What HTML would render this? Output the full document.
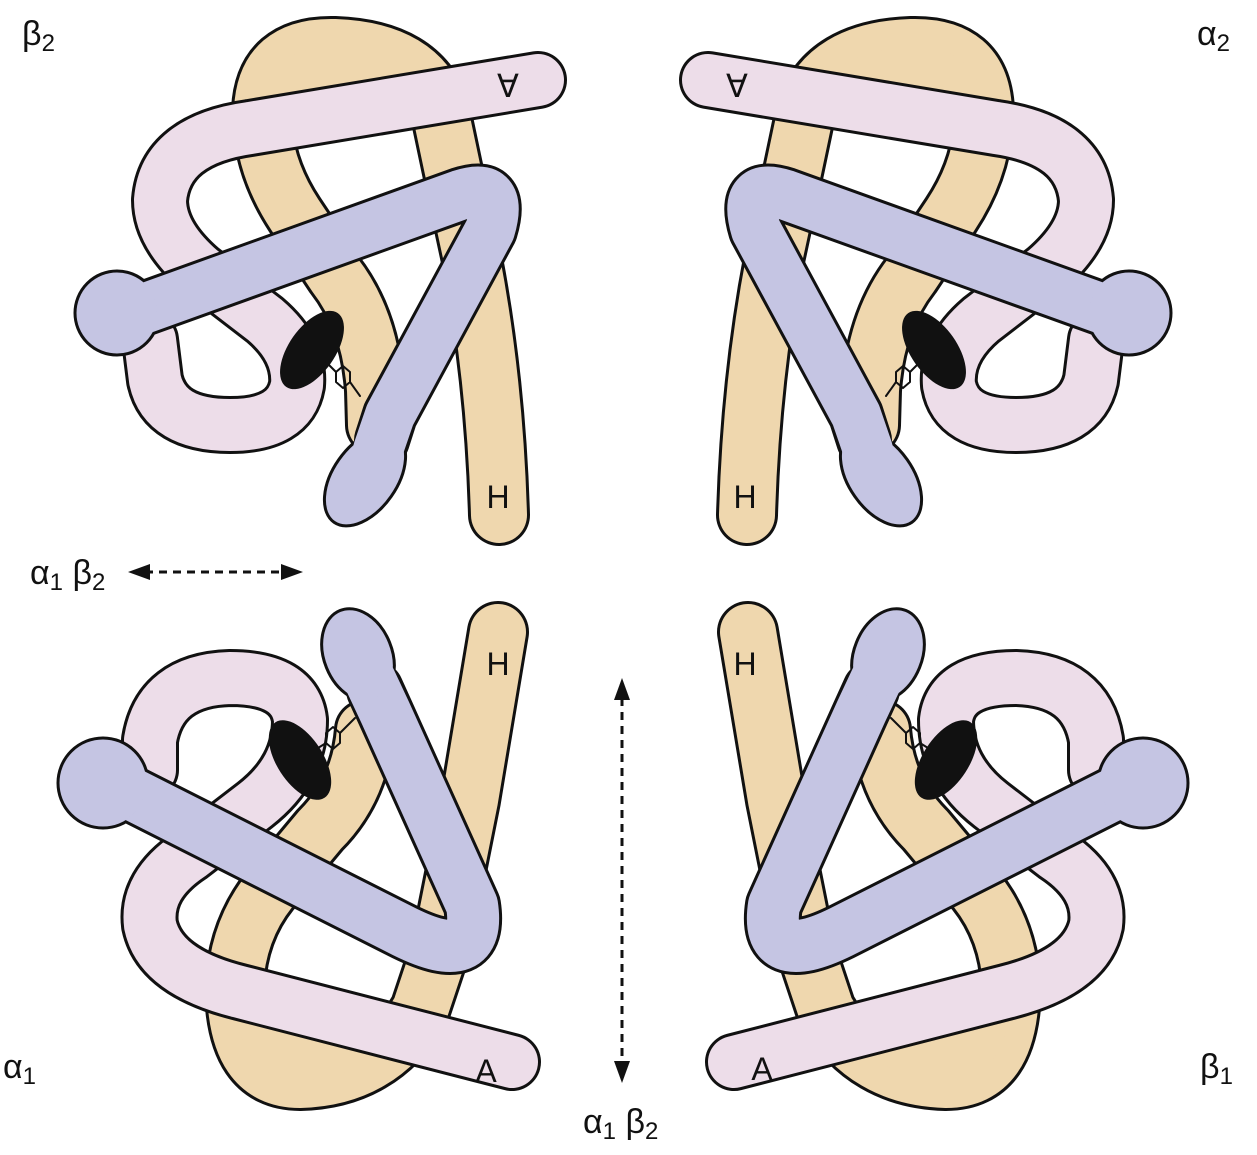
<!DOCTYPE html>
<html><head><meta charset="utf-8"><style>
html,body{margin:0;padding:0;background:#fff}
svg{display:block}
text{font-family:"Liberation Sans",sans-serif;fill:#111}
</style></head><body>
<svg width="1257" height="1155" viewBox="0 0 1257 1155" xmlns="http://www.w3.org/2000/svg">
<defs>
<g id="tl" stroke-linecap="round" stroke-linejoin="round" fill="none">
  <path d="M376 425 L375 390 Q370 320 335 275 L295 215 Q262 165 262 110 Q265 45 335 47 Q420 50 440 110 L452 167 L472 260 Q495 380 499 515" stroke="#111" stroke-width="62"/>
  <path d="M376 425 L375 390 Q370 320 335 275 L295 215 Q262 165 262 110 Q265 45 335 47 Q420 50 440 110 L452 167 L472 260 Q495 380 499 515" stroke="#EFD7AE" stroke-width="56"/>
  <path d="M262 115 Q265 45 335 47 Q420 50 442 115 Z" fill="#EFD7AE"/>
  <path d="M538 80 L250 128 Q165 140 160 200 Q160 235 200 270 L265 320 Q300 350 297 385 Q290 425 230 425 Q165 425 155 380 L150 340" stroke="#111" stroke-width="58"/>
  <path d="M538 80 L250 128 Q165 140 160 200 Q160 235 200 270 L265 320 Q300 350 297 385 Q290 425 230 425 Q165 425 155 380 L150 340" stroke="#EDDDE9" stroke-width="52"/>
  <path d="M118 318 L460 195 Q505 180 490 230 L390 415 L382 440" stroke="#111" stroke-width="56"/>
  <circle cx="117" cy="313" r="42" fill="#C5C5E3" stroke="#111" stroke-width="3"/>
  <ellipse cx="365" cy="478" rx="32" ry="54" transform="rotate(35 365 478)" fill="#C5C5E3" stroke="#111" stroke-width="3"/>
  <path d="M118 318 L460 195 Q505 180 490 230 L390 415 L378 450" stroke="#C5C5E3" stroke-width="50"/>
  <circle cx="117" cy="313" r="40" fill="#C5C5E3"/>
  <ellipse cx="365" cy="478" rx="30" ry="52" transform="rotate(35 365 478)" fill="#C5C5E3"/>
  <ellipse cx="312" cy="350" rx="23" ry="45" transform="rotate(35 312 350)" fill="#111"/>
  <polygon points="336,372 343,366 350,372 350,382 343,388 336,382" fill="none" stroke="#111" stroke-width="2"/>
  <line x1="326" y1="362" x2="336" y2="372" stroke="#111" stroke-width="2"/>
  <line x1="350" y1="382" x2="360" y2="396" stroke="#111" stroke-width="2"/>
</g>
<g id="bl" stroke-linecap="round" stroke-linejoin="round" fill="none">
  <path d="M365 730 Q360 790 320 830 L270 890 Q238 930 235 985 Q235 1080 300 1080 Q380 1078 420 1010 L440 950 L470 800 L498 632" stroke="#111" stroke-width="62"/>
  <path d="M365 730 Q360 790 320 830 L270 890 Q238 930 235 985 Q235 1080 300 1080 Q380 1078 420 1010 L440 950 L470 800 L498 632" stroke="#EFD7AE" stroke-width="56"/>
  <path d="M236 990 Q235 1080 300 1080 Q380 1078 422 1005 Z" fill="#EFD7AE"/>
  <path d="M512 1062 L240 992 Q160 972 150 925 Q145 885 190 855 L255 805 Q300 770 300 720 Q295 678 230 678 Q160 680 150 740 L150 770" stroke="#111" stroke-width="58"/>
  <path d="M512 1062 L240 992 Q160 972 150 925 Q145 885 190 855 L255 805 Q300 770 300 720 Q295 678 230 678 Q160 680 150 740 L150 770" stroke="#EDDDE9" stroke-width="52"/>
  <path d="M110 783 L405 932 Q482 970 472 905 L385 712 L375 690" stroke="#111" stroke-width="58"/>
  <circle cx="103" cy="783" r="45" fill="#C5C5E3" stroke="#111" stroke-width="3"/>
  <ellipse cx="358" cy="655" rx="34" ry="48" transform="rotate(-22 358 655)" fill="#C5C5E3" stroke="#111" stroke-width="3"/>
  <path d="M110 783 L405 932 Q482 970 472 905 L385 712 L370 680" stroke="#C5C5E3" stroke-width="52"/>
  <circle cx="103" cy="783" r="43" fill="#C5C5E3"/>
  <ellipse cx="358" cy="655" rx="32" ry="46" transform="rotate(-22 358 655)" fill="#C5C5E3"/>
  <ellipse cx="300" cy="760" rx="23" ry="45" transform="rotate(-33 300 760)" fill="#111"/>
  <polygon points="326,733 333,727 340,733 340,743 333,749 326,743" fill="none" stroke="#111" stroke-width="2"/>
  <line x1="318" y1="748" x2="326" y2="743" stroke="#111" stroke-width="2"/>
  <line x1="340" y1="733" x2="355" y2="718" stroke="#111" stroke-width="2"/>
</g>
</defs>
<use href="#tl"/>
<use href="#tl" transform="translate(1246,0) scale(-1,1)"/>
<use href="#bl"/>
<use href="#bl" transform="translate(1246,0) scale(-1,1)"/>

<text x="498" y="508" font-size="32" text-anchor="middle">H</text>
<text x="745" y="508" font-size="32" text-anchor="middle">H</text>
<text x="498" y="675" font-size="32" text-anchor="middle">H</text>
<text x="745" y="675" font-size="32" text-anchor="middle">H</text>
<text x="508" y="97" font-size="32" text-anchor="middle">∀</text>
<text x="737" y="97" font-size="32" text-anchor="middle">∀</text>
<text x="486" y="1082" font-size="32" text-anchor="middle">A</text>
<text x="762" y="1080" font-size="32" text-anchor="middle">A</text>

<text x="22" y="45" font-size="34">β<tspan font-size="24" dy="6">2</tspan></text>
<text x="1197" y="45" font-size="34">α<tspan font-size="24" dy="6">2</tspan></text>
<text x="3" y="1078" font-size="34">α<tspan font-size="24" dy="6">1</tspan></text>
<text x="1200" y="1078" font-size="34">β<tspan font-size="24" dy="6">1</tspan></text>
<text x="30" y="584" font-size="34">α<tspan font-size="24" dy="6">1</tspan><tspan dy="-6"> β</tspan><tspan font-size="24" dy="6">2</tspan></text>
<text x="583" y="1133" font-size="34">α<tspan font-size="24" dy="6">1</tspan><tspan dy="-6"> β</tspan><tspan font-size="24" dy="6">2</tspan></text>

<line x1="145" y1="572" x2="285" y2="572" stroke="#111" stroke-width="3" stroke-dasharray="8 6"/>
<polygon points="128,572 150,564 150,580" fill="#111"/>
<polygon points="303,572 281,564 281,580" fill="#111"/>
<line x1="622" y1="698" x2="622" y2="1062" stroke="#111" stroke-width="3" stroke-dasharray="8 6"/>
<polygon points="622,678 614,700 630,700" fill="#111"/>
<polygon points="622,1083 614,1061 630,1061" fill="#111"/>
</svg>
</body></html>
